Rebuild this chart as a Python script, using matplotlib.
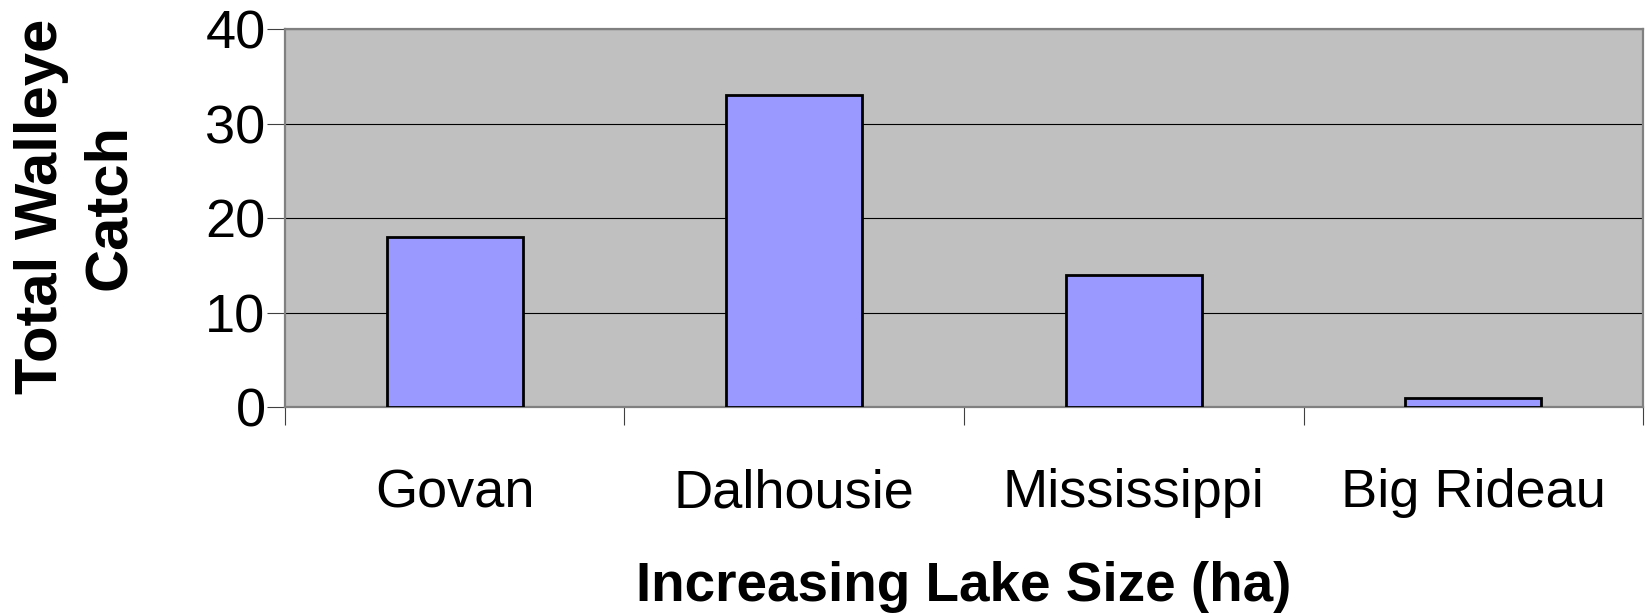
import matplotlib
matplotlib.use("Agg")
import matplotlib.pyplot as plt
import numpy as np

lakes = ["Govan", "Dalhousie", "Mississippi", "Big Rideau"]
catch = [18, 33, 14, 1]
y_ticks = [0, 10, 20, 30, 40]

plt.rcParams["font.family"] = ["Liberation Sans", "DejaVu Sans"]

fig = plt.figure(figsize=(16.5, 6.13), dpi=100)
ax = fig.add_axes([0.1727, 0.336, 0.8231, 0.6167])

x = np.arange(len(lakes))
ax.set_facecolor("#C0C0C0")
ax.set_axisbelow(True)
ax.yaxis.grid(True, color="black", linewidth=0.8)
ax.bar(x, catch, width=0.4, color="#9999FF", edgecolor="black", linewidth=2.0, zorder=3)

ax.set_xlim(-0.5, len(lakes) - 0.5)
ax.set_ylim(0, 40)
ax.set_yticks(y_ticks)
ax.tick_params(axis="y", length=13, width=0.8, color="#404040", pad=1, labelsize=39)

# boundary ticks below the axis, names centred between them
ax.set_xticks(np.arange(-0.5, len(lakes), 1.0))
ax.set_xticklabels([])
ax.set_xticks(x, minor=True)
ax.set_xticklabels(lakes, minor=True)
ax.tick_params(axis="x", which="major", length=13, width=0.8, color="#404040")
ax.tick_params(axis="x", which="minor", length=0, pad=44, labelsize=39)

for side in ax.spines.values():
    side.set_color("#808080")
    side.set_linewidth(1.6)

ax.set_ylabel("Total Walleye\nCatch", fontsize=43, fontweight="bold", linespacing=1.3)
ax.yaxis.set_label_coords(-0.109, 0.53)
ax.set_xlabel("Increasing Lake Size (ha)", fontsize=39.5, fontweight="bold", labelpad=31)

fig.savefig("out.png", dpi=100)
